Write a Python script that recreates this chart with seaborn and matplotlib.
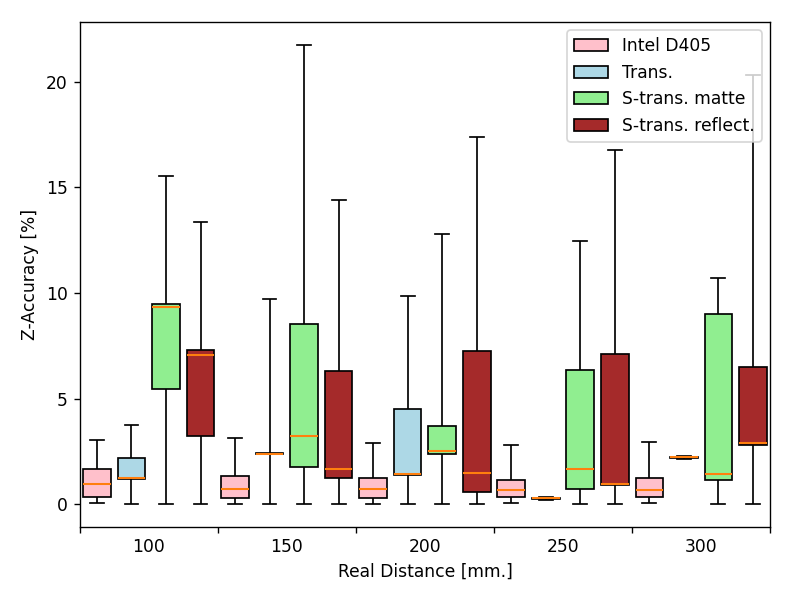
import matplotlib
matplotlib.use("Agg")
import matplotlib.pyplot as plt
import numpy as np
import pandas as pd
import seaborn as sns

distances = ["100", "150", "200", "250", "300"]
sensors = ["Intel D405", "Trans.", "S-trans. matte", "S-trans. reflect."]
palette = ["pink", "lightblue", "lightgreen", "brown"]

# five-number summaries: min, q1, median, q3, max
intel_d405 = [
    [0.05, 0.32, 0.97, 1.67, 3.02],
    [0.02, 0.27, 0.74, 1.33, 3.13],
    [0.02, 0.30, 0.73, 1.26, 2.89],
    [0.05, 0.32, 0.68, 1.15, 2.78],
    [0.05, 0.32, 0.68, 1.25, 2.95],
]
trans = [
    [0.0, 1.20, 1.22, 2.19, 3.73],
    [0.0, 2.36, 2.40, 2.42, 9.70],
    [0.0, 1.37, 1.45, 4.52, 9.87],
    [0.20, 0.24, 0.27, 0.30, 0.34],
    [2.15, 2.19, 2.22, 2.25, 2.30],
]
strans_matte = [
    [0.0, 5.45, 9.35, 9.48, 15.52],
    [0.0, 1.77, 3.24, 8.51, 21.75],
    [0.0, 2.37, 2.54, 3.71, 12.78],
    [0.0, 0.73, 1.66, 6.37, 12.48],
    [0.0, 1.14, 1.44, 8.99, 10.73],
]
strans_reflect = [
    [0.0, 3.24, 7.08, 7.31, 13.36],
    [0.0, 1.25, 1.67, 6.30, 14.42],
    [0.0, 0.58, 1.50, 7.25, 17.38],
    [0.0, 0.90, 0.98, 7.11, 16.75],
    [0.0, 2.78, 2.88, 6.51, 20.31],
]

rows = []
for sensor, series in zip(sensors, [intel_d405, trans, strans_matte, strans_reflect]):
    for dist, values in zip(distances, series):
        for v in values:
            rows.append({"distance": dist, "sensor": sensor, "accuracy": v})
data = pd.DataFrame(rows)

fig, ax = plt.subplots(figsize=(6.4, 4.81), dpi=123.3)

sns.boxplot(data=data, x="distance", y="accuracy", hue="sensor",
            order=distances, hue_order=sensors, palette=palette,
            width=1.0, gap=0.2, whis=(0, 100), linecolor="black",
            linewidth=1.0, saturation=1, showfliers=False,
            medianprops={"color": "#ff7f0e", "linewidth": 1.2}, ax=ax)

ax.set_xlim(-0.5, 4.5)
ax.set_xticks(np.arange(len(distances)))
ax.set_xticklabels(distances)
ax.set_xticks(np.arange(-0.5, len(distances)), minor=True)
ax.tick_params(axis="x", which="major", length=0, pad=6)
ax.tick_params(axis="x", which="minor", length=3.5, width=0.8)

ax.set_xlabel("Real Distance [mm.]")
ax.set_ylabel("Z-Accuracy [%]")
ax.legend(loc="upper right")

plt.subplots_adjust(left=0.101, right=0.976, top=0.963, bottom=0.111)
plt.savefig("out.png")
plt.close("all")
